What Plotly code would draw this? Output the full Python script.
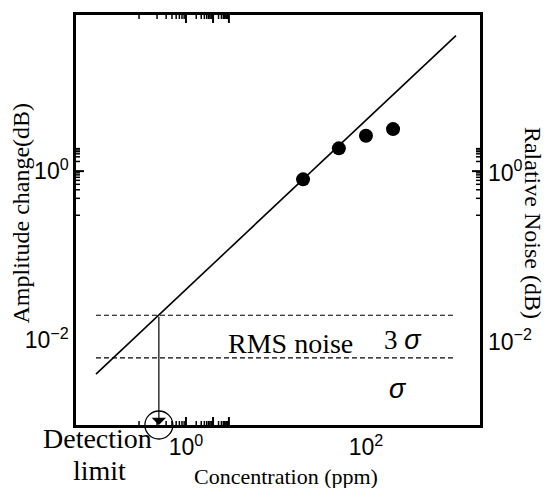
import numpy as np
import plotly.graph_objects as go

# ---- data ----
conc = [20, 50, 100, 200]                 # ppm
amp = [0.80, 1.86, 2.62, 3.14]            # dB
fit_x = [0.1, 1000]
fit_y = [0.004, 40]
noise_x = [0.1, 1000]
sigma = 0.0062
three_sigma = 0.0198
detection_limit = 0.5
x_range = [0.06, 1850]
y_range = [0.001, 70]
x_tickvals = [0.1, 1, 10, 100, 1000]
x_ticktext = ["", "10<sup>0</sup>", "", "10<sup>2</sup>", ""]
y_tickvals = [0.001, 0.01, 0.1, 1, 10]
y_ticktext = ["", "10<sup>−2</sup>", "", "10<sup>0</sup>", ""]
minor_x = [m * 10.0 ** e for e in range(-2, 4) for m in range(2, 10)]
minor_y = [m * 10.0 ** e for e in range(-3, 2) for m in range(2, 10)]

SERIF = "Liberation Serif, Times New Roman, serif"
SANS = "Liberation Sans, Arial, sans-serif"

fig = go.Figure()
fig.add_trace(go.Scatter(x=fit_x, y=fit_y, mode="lines",
                         line=dict(color="black", width=1.6), showlegend=False))
for lvl in (three_sigma, sigma):
    fig.add_trace(go.Scatter(x=noise_x, y=[lvl, lvl], mode="lines",
                             line=dict(color="black", width=1.2, dash="5px,3px"),
                             showlegend=False))
fig.add_trace(go.Scatter(x=conc, y=amp, mode="markers",
                         marker=dict(color="black", size=14), showlegend=False))
fig.add_trace(go.Scatter(x=[detection_limit], y=[y_range[0]], mode="markers",
                         marker=dict(symbol="circle-open", size=28, color="black",
                                     line=dict(color="black", width=1.3)),
                         cliponaxis=False, showlegend=False))

fig.add_annotation(x=np.log10(detection_limit), y=np.log10(y_range[0]),
                   ax=np.log10(detection_limit), ay=np.log10(three_sigma),
                   xref="x", yref="y", axref="x", ayref="y",
                   showarrow=True, arrowhead=1, arrowsize=2, arrowwidth=1.2,
                   arrowcolor="black", text="")

axis_common = dict(type="log", showgrid=False, zeroline=False, showline=True,
                   linecolor="black", linewidth=2.5, ticks="", mirror=True,
                   tickfont=dict(family=SANS, size=23, color="black"))

fig.update_layout(
    width=551, height=488, margin=dict(l=76, r=71, t=15, b=63),
    paper_bgcolor="white", plot_bgcolor="white",
    xaxis=dict(**axis_common, range=[np.log10(v) for v in x_range],
               tickmode="array", tickvals=x_tickvals, ticktext=x_ticktext),
    yaxis=dict(**axis_common, range=[np.log10(v) for v in y_range],
               tickmode="array", tickvals=y_tickvals, ticktext=y_ticktext),
)


# tick marks pointing inward on all four sides (major long, minor short);
# shape positions on log axes are given in log10 units
def in_range(v, rng):
    return rng[0] <= v <= rng[1]


for vals, length, width in ((x_tickvals, 8, 2.0), (minor_x, 4, 1.5)):
    for v in vals:
        if not in_range(v, x_range):
            continue
        for anchor, sign in ((0, 1), (1, -1)):
            fig.add_shape(type="line", xref="x", yref="paper",
                          x0=np.log10(v), x1=np.log10(v),
                          ysizemode="pixel", yanchor=anchor,
                          y0=0, y1=sign * length,
                          line=dict(width=width, color="black"))
for vals, length, width in ((y_tickvals, 8, 2.0), (minor_y, 4, 1.5)):
    for v in vals:
        if not in_range(v, y_range):
            continue
        for anchor, sign in ((0, 1), (1, -1)):
            fig.add_shape(type="line", xref="paper", yref="y",
                          y0=np.log10(v), y1=np.log10(v),
                          xsizemode="pixel", xanchor=anchor,
                          x0=0, x1=sign * length,
                          line=dict(width=width, color="black"))

# right-hand axis labels (same scale as the left axis)
for v, t in zip(y_tickvals, y_ticktext):
    if t:
        fig.add_annotation(xref="paper", yref="y", x=1.0, y=np.log10(v), text=t,
                           xanchor="left", yanchor="middle", xshift=6,
                           showarrow=False,
                           font=dict(family=SANS, size=23, color="black"))


def txt(x, y, text, size, angle=0, family=SERIF):
    fig.add_annotation(xref="paper", yref="paper", x=x, y=y, text=text,
                       xanchor="center", yanchor="middle", textangle=angle,
                       showarrow=False,
                       font=dict(family=family, size=size, color="black"))


SIG = "<span style='font-family:Liberation Sans'><i>σ</i></span>"
txt(0.530, 0.200, "RMS noise", 28)
txt(0.809, 0.207, "3 " + SIG, 27)
txt(0.796, 0.088, SIG, 27)
txt(0.053, -0.034, "Detection", 28)
txt(0.058, -0.112, "limit", 28)
txt(0.520, -0.125, "Concentration (ppm)", 22)
txt(-0.135, 0.517, "Amplitude change(dB)", 24, -90)
txt(1.131, 0.493, "Ralative Noise (dB)", 24, 90)

fig.write_html("out.html")
